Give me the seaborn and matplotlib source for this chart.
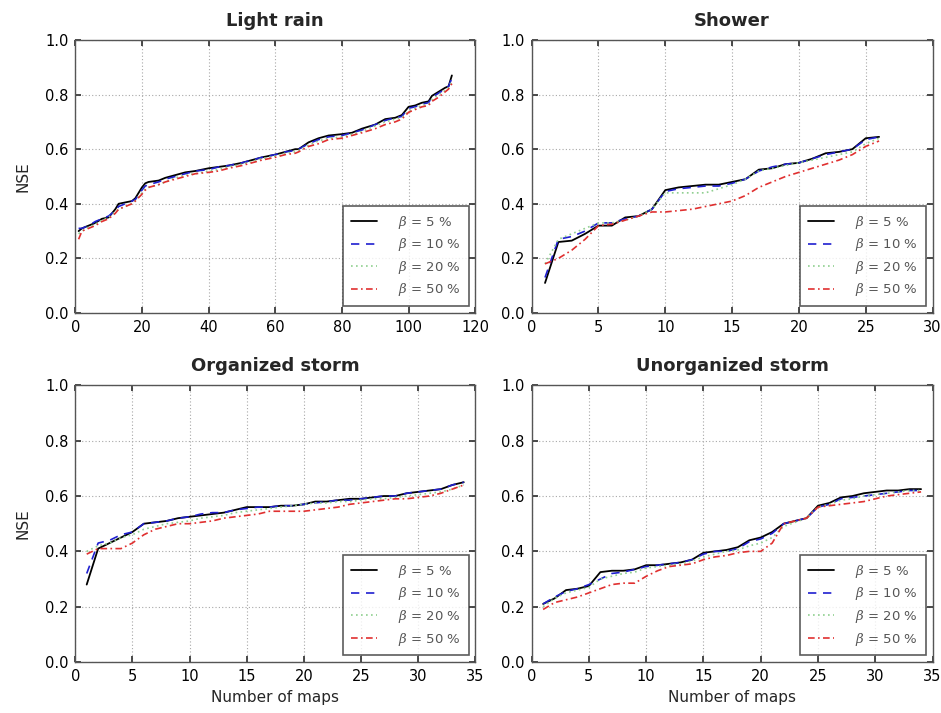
import numpy as np
import pandas as pd
import matplotlib
matplotlib.use("Agg")
import matplotlib.pyplot as plt
import seaborn as sns

# ---------------- data ----------------
lr_x = [1, 2, 4, 6, 8, 10, 12, 13, 15, 17, 18, 20, 21, 22, 25, 27, 30, 33, 36, 40, 43, 46, 50, 53,
        56, 60, 63, 66, 67, 70, 73, 76, 80, 83, 86, 90, 93, 96, 98, 100, 102, 104, 106, 107, 109, 111, 112, 113]
lr_b5 = [0.30, 0.31, 0.32, 0.33, 0.345, 0.35, 0.38, 0.40, 0.405, 0.41, 0.42, 0.46, 0.475, 0.48, 0.485, 0.495,
         0.505, 0.515, 0.52, 0.53, 0.535, 0.54, 0.55, 0.56, 0.57, 0.58, 0.59, 0.60, 0.60, 0.625, 0.64, 0.65,
         0.655, 0.66, 0.675, 0.69, 0.71, 0.715, 0.725, 0.755, 0.76, 0.77, 0.775, 0.795, 0.81, 0.825, 0.83, 0.87]
lr_b10 = [0.31, 0.31, 0.32, 0.335, 0.345, 0.355, 0.375, 0.39, 0.40, 0.41, 0.415, 0.45, 0.465, 0.47, 0.48, 0.49,
          0.50, 0.51, 0.52, 0.525, 0.535, 0.54, 0.55, 0.56, 0.57, 0.58, 0.59, 0.595, 0.60, 0.62, 0.635, 0.645,
          0.65, 0.66, 0.67, 0.69, 0.705, 0.715, 0.72, 0.75, 0.755, 0.765, 0.77, 0.79, 0.805, 0.82, 0.83, 0.86]
lr_b20 = [0.29, 0.30, 0.315, 0.325, 0.34, 0.35, 0.37, 0.38, 0.39, 0.40, 0.41, 0.44, 0.455, 0.46, 0.47, 0.48,
          0.495, 0.505, 0.51, 0.52, 0.525, 0.535, 0.545, 0.555, 0.565, 0.575, 0.585, 0.59, 0.595, 0.615, 0.63, 0.64,
          0.645, 0.655, 0.665, 0.685, 0.70, 0.71, 0.715, 0.74, 0.75, 0.76, 0.765, 0.78, 0.80, 0.815, 0.825, 0.85]
lr_b50 = [0.27, 0.30, 0.31, 0.32, 0.335, 0.345, 0.365, 0.38, 0.39, 0.40, 0.41, 0.435, 0.45, 0.46, 0.47, 0.48,
          0.49, 0.50, 0.51, 0.515, 0.52, 0.53, 0.54, 0.55, 0.56, 0.57, 0.58, 0.585, 0.59, 0.61, 0.62, 0.635,
          0.64, 0.65, 0.66, 0.675, 0.69, 0.70, 0.71, 0.735, 0.745, 0.755, 0.76, 0.775, 0.79, 0.81, 0.82, 0.84]

sh_x = list(range(1, 27))
sh_b5 = [0.11, 0.26, 0.265, 0.29, 0.32, 0.32, 0.35, 0.355, 0.38, 0.45, 0.46, 0.465, 0.47,
         0.47, 0.48, 0.49, 0.525, 0.53, 0.545, 0.55, 0.565, 0.585, 0.59, 0.60, 0.64, 0.645]
sh_b10 = [0.13, 0.27, 0.28, 0.30, 0.33, 0.33, 0.345, 0.355, 0.38, 0.445, 0.455, 0.46, 0.465,
          0.465, 0.475, 0.49, 0.52, 0.535, 0.545, 0.55, 0.565, 0.58, 0.59, 0.60, 0.635, 0.645]
sh_b20 = [0.18, 0.27, 0.29, 0.31, 0.33, 0.33, 0.34, 0.355, 0.38, 0.44, 0.44, 0.44, 0.44,
          0.455, 0.47, 0.49, 0.52, 0.53, 0.54, 0.55, 0.56, 0.57, 0.58, 0.59, 0.62, 0.64]
sh_b50 = [0.18, 0.20, 0.23, 0.27, 0.32, 0.325, 0.34, 0.355, 0.37, 0.37, 0.375, 0.38, 0.39,
          0.40, 0.41, 0.43, 0.46, 0.48, 0.50, 0.515, 0.53, 0.545, 0.56, 0.58, 0.61, 0.63]

os_x = list(range(1, 35))
os_b5 = [0.28, 0.41, 0.43, 0.45, 0.47, 0.50, 0.505, 0.51, 0.52, 0.525, 0.53, 0.535, 0.54, 0.55, 0.56, 0.56, 0.56,
         0.565, 0.565, 0.57, 0.58, 0.58, 0.585, 0.59, 0.59, 0.595, 0.60, 0.60, 0.61, 0.615, 0.62, 0.625, 0.64, 0.65]
os_b10 = [0.32, 0.43, 0.44, 0.46, 0.47, 0.50, 0.505, 0.51, 0.52, 0.525, 0.535, 0.54, 0.54, 0.55, 0.555, 0.56, 0.56,
          0.565, 0.565, 0.57, 0.575, 0.58, 0.585, 0.585, 0.59, 0.595, 0.60, 0.60, 0.61, 0.615, 0.62, 0.625, 0.64, 0.65]
os_b20 = [0.40, 0.42, 0.43, 0.45, 0.46, 0.48, 0.49, 0.50, 0.505, 0.51, 0.52, 0.525, 0.53, 0.54, 0.545, 0.55, 0.555,
          0.56, 0.565, 0.57, 0.575, 0.575, 0.58, 0.58, 0.585, 0.59, 0.59, 0.595, 0.60, 0.605, 0.61, 0.615, 0.625, 0.64]
os_b50 = [0.39, 0.41, 0.41, 0.41, 0.43, 0.46, 0.48, 0.49, 0.50, 0.50, 0.505, 0.51, 0.52, 0.525, 0.53, 0.535, 0.545,
          0.545, 0.545, 0.545, 0.55, 0.555, 0.56, 0.57, 0.575, 0.58, 0.585, 0.59, 0.59, 0.595, 0.60, 0.61, 0.625, 0.64]

us_x = list(range(1, 35))
us_b5 = [0.21, 0.23, 0.26, 0.265, 0.275, 0.325, 0.33, 0.33, 0.335, 0.35, 0.35, 0.355, 0.36, 0.37, 0.395, 0.40, 0.405,
         0.415, 0.44, 0.45, 0.47, 0.50, 0.51, 0.52, 0.565, 0.575, 0.595, 0.60, 0.61, 0.615, 0.62, 0.62, 0.625, 0.625]
us_b10 = [0.21, 0.235, 0.255, 0.265, 0.28, 0.30, 0.32, 0.325, 0.335, 0.345, 0.35, 0.355, 0.36, 0.37, 0.39, 0.40, 0.40,
          0.41, 0.435, 0.445, 0.465, 0.50, 0.51, 0.52, 0.56, 0.57, 0.59, 0.595, 0.60, 0.605, 0.61, 0.615, 0.62, 0.62]
us_b20 = [0.20, 0.23, 0.25, 0.26, 0.27, 0.30, 0.31, 0.32, 0.325, 0.34, 0.345, 0.35, 0.355, 0.365, 0.38, 0.39, 0.40,
          0.405, 0.42, 0.43, 0.45, 0.49, 0.505, 0.52, 0.56, 0.57, 0.585, 0.59, 0.60, 0.605, 0.61, 0.615, 0.62, 0.62]
us_b50 = [0.19, 0.215, 0.225, 0.235, 0.25, 0.265, 0.28, 0.285, 0.285, 0.31, 0.33, 0.345, 0.35, 0.355, 0.37, 0.38, 0.385,
          0.395, 0.40, 0.40, 0.43, 0.50, 0.51, 0.52, 0.56, 0.565, 0.57, 0.575, 0.58, 0.59, 0.60, 0.605, 0.61, 0.615]

titles = ["Light rain", "Shower", "Organized storm", "Unorganized storm"]
beta_labels = [r"$\beta$ = 5 %", r"$\beta$ = 10 %", r"$\beta$ = 20 %", r"$\beta$ = 50 %"]
xlims = [120, 30, 35, 35]

panels = [
    (lr_x, [lr_b5, lr_b10, lr_b20, lr_b50]),
    (sh_x, [sh_b5, sh_b10, sh_b20, sh_b50]),
    (os_x, [os_b5, os_b10, os_b20, os_b50]),
    (us_x, [us_b5, us_b10, us_b20, us_b50]),
]

# ---------------- style ----------------
sns.set_theme(style="ticks")
plt.rcParams['font.family'] = ['DejaVu Sans']
plt.rcParams['mathtext.fontset'] = 'dejavuserif'

colors = ["black", "#1f1fd0", "#8fcf8f", "#e03030"]
styles = ["-", (0, (5, 4)), (0, (1, 2)), (0, (4, 2, 1, 2))]
widths = [1.3, 1.2, 1.2, 1.2]

fig = plt.figure(figsize=(9.41, 7.13), dpi=100)
positions = [
    [0.080, 0.561, 0.425, 0.383],
    [0.565, 0.561, 0.426, 0.383],
    [0.080, 0.0715, 0.425, 0.388],
    [0.565, 0.0715, 0.426, 0.388],
]

for i, (pos, (xs, series)) in enumerate(zip(positions, panels)):
    ax = fig.add_axes(pos)
    for j, ys in enumerate(series):
        df = pd.DataFrame({"x": xs, "y": ys})
        sns.lineplot(data=df, x="x", y="y", ax=ax, color=colors[j], linestyle=styles[j],
                     linewidth=widths[j], label=beta_labels[j])
    ax.set_xlim(0, xlims[i])
    ax.set_ylim(0, 1.0)
    ax.set_yticks([0.0, 0.2, 0.4, 0.6, 0.8, 1.0])
    ax.set_yticklabels(["0.0", "0.2", "0.4", "0.6", "0.8", "1.0"])
    ax.grid(True, linestyle=(0, (1, 2)), color="#a8a8a8", linewidth=0.8)
    for sp in ax.spines.values():
        sp.set_visible(True)
        sp.set_color("#555555")
        sp.set_linewidth(1.0)
    ax.tick_params(axis="both", direction="in", top=True, right=True, labelsize=10.5,
                   length=4, colors="#333333", labelcolor="black", pad=5)
    ax.set_title(titles[i], fontsize=13, fontweight="bold", pad=10)
    ax.set_xlabel("Number of maps" if i >= 2 else "", fontsize=11)
    ax.set_ylabel("NSE" if i % 2 == 0 else "", fontsize=11, labelpad=10)
    leg = ax.legend(loc="lower right", fontsize=9.5, frameon=True, fancybox=False,
                    handlelength=2.0, handletextpad=1.6, borderpad=0.6, labelspacing=0.42,
                    borderaxespad=0.5)
    leg.get_frame().set_edgecolor("#333333")
    leg.get_frame().set_linewidth(1.2)
    for t in leg.get_texts():
        t.set_color("#555555")

fig.savefig("out.png", dpi=100)
